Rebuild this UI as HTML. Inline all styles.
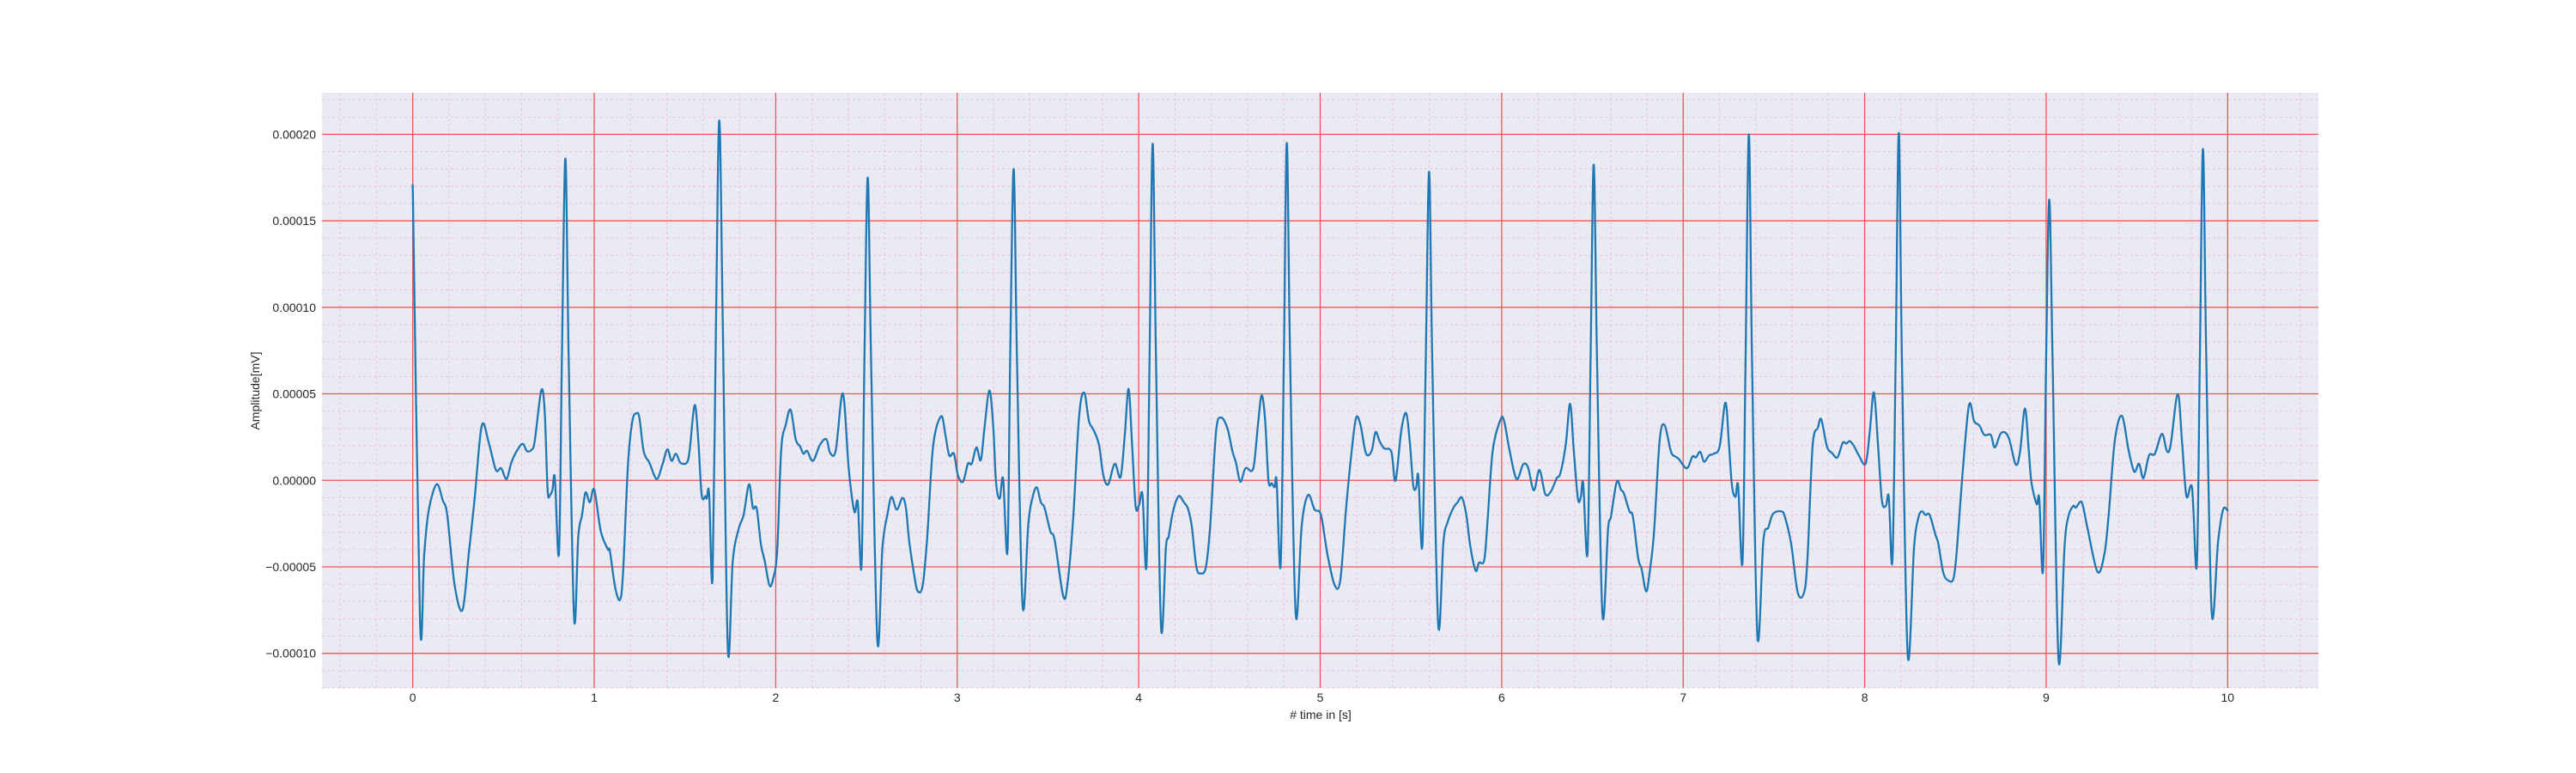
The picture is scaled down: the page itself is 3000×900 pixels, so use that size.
<!DOCTYPE html>
<html>
<head>
<meta charset="utf-8">
<style>
html,body{margin:0;padding:0;background:#fff;}
svg{display:block;}
text{font-family:"Liberation Sans","DejaVu Sans",sans-serif;fill:#262626;}
</style>
</head>
<body>
<svg id="chart" width="3000" height="900" xmlns="http://www.w3.org/2000/svg">
  <rect x="0" y="0" width="3000" height="900" fill="#ffffff"/>
  <rect x="375" y="108" width="2325" height="693" fill="#eaeaf2"/>
  <g id="minor-grid"></g>
  <g id="major-grid"></g>
  <g id="x-ticks"></g>
  <g id="y-ticks"></g>
  <g id="series"></g>
  <text x="1538" y="837" font-size="14" text-anchor="middle"># time in [s]</text>
  <text x="302" y="455" font-size="14" text-anchor="middle" transform="rotate(-90 302 455)">Amplitude[mV]</text>
</svg>
<script>
const xTickValues = [0,1,2,3,4,5,6,7,8,9,10];
const xTickLabels = ["0","1","2","3","4","5","6","7","8","9","10"];
const yTickValues = [-0.0001,-0.00005,0,0.00005,0.0001,0.00015,0.0002];
const yTickLabels = ["\u22120.00010","\u22120.00005","0.00000","0.00005","0.00010","0.00015","0.00020"];
const timeSec = [
0,0.04,0.063,0.087,0.131,0.166,0.19,0.23,0.274,0.308,0.34,0.38,0.419,0.458,0.487,0.517,0.545,0.585,0.609,0.628,0.653,0.672,0.708,0.727,0.743,0.756,0.77,0.783,0.806,0.822,0.841,0.859,0.889,0.912,0.933,0.952,0.976,1.0,1.036,1.075,1.086,1.115,1.142,1.159,1.186,1.21,1.233,1.249,1.273,1.304,1.344,1.376,1.403,1.426,1.45,1.475,1.51,1.526,1.553,1.573,1.592,1.613,1.62,1.633,1.652,1.671,1.689,1.708,1.736,1.763,1.795,1.823,1.853,1.874,1.895,1.918,1.94,1.965,1.984,2.008,
2.03,2.055,2.082,2.11,2.134,2.153,2.173,2.205,2.244,2.279,2.3,2.331,2.37,2.402,2.433,2.452,2.473,2.489,2.507,2.525,2.56,2.588,2.615,2.638,2.667,2.698,2.717,2.736,2.764,2.783,2.81,2.835,2.867,2.911,2.934,2.956,2.982,3.004,3.032,3.059,3.08,3.106,3.13,3.15,3.177,3.198,3.214,3.234,3.253,3.277,3.292,3.311,3.329,3.36,3.391,3.411,3.437,3.461,3.481,3.513,3.537,3.584,3.608,3.639,3.671,3.699,3.726,3.75,3.781,3.805,3.832,3.868,3.9,3.923,3.944,3.962,3.983,4.002,4.021,
4.043,4.06,4.077,4.095,4.123,4.15,4.165,4.189,4.22,4.249,4.271,4.292,4.318,4.342,4.37,4.394,4.426,4.454,4.489,4.517,4.536,4.56,4.588,4.623,4.638,4.659,4.678,4.697,4.715,4.733,4.749,4.76,4.782,4.8,4.816,4.834,4.865,4.898,4.933,4.969,5.004,5.04,5.08,5.111,5.143,5.174,5.198,5.222,5.245,5.261,5.285,5.305,5.327,5.352,5.392,5.415,5.447,5.474,5.494,5.513,5.529,5.541,5.563,5.582,5.6,5.617,5.65,5.679,5.702,5.734,5.757,5.781,5.805,5.828,5.857,5.875,5.904,5.923,5.951,5.994,
6.014,6.043,6.082,6.118,6.145,6.177,6.208,6.24,6.271,6.303,6.323,6.353,6.377,6.397,6.42,6.436,6.449,6.473,6.49,6.507,6.525,6.555,6.586,6.602,6.634,6.657,6.673,6.704,6.723,6.752,6.771,6.796,6.815,6.839,6.87,6.897,6.933,6.957,6.976,7.02,7.051,7.07,7.094,7.115,7.143,7.169,7.201,7.233,7.253,7.269,7.288,7.303,7.327,7.344,7.362,7.379,7.409,7.442,7.469,7.495,7.54,7.56,7.595,7.631,7.666,7.685,7.713,7.742,7.761,7.792,7.82,7.85,7.879,7.899,7.918,7.942,7.968,8.005,8.028,
8.051,8.074,8.095,8.117,8.133,8.153,8.171,8.188,8.205,8.237,8.272,8.295,8.314,8.335,8.358,8.39,8.406,8.433,8.461,8.49,8.509,8.54,8.575,8.603,8.632,8.659,8.695,8.717,8.753,8.793,8.832,8.856,8.883,8.904,8.919,8.948,8.962,8.983,9.0,9.017,9.035,9.068,9.101,9.122,9.149,9.164,9.196,9.227,9.283,9.322,9.346,9.378,9.417,9.454,9.485,9.512,9.536,9.567,9.599,9.638,9.665,9.686,9.725,9.749,9.773,9.804,9.83,9.847,9.864,9.882,9.912,9.947,9.975,10.0
];
const amplitudeMicroV = [
170.6,-81.5,-43,-18,-2.3,-11.7,-20,-60,-75,-43,-11.7,31.5,21.7,6,7,0.8,10.8,19,21,17,17.5,22.7,51.9,40,-5.4,-8.5,-5.4,1.3,-41.9,71.7,186,71.7,-79.4,-32.5,-20,-7,-12.7,-5.4,-29.4,-39.8,-40.8,-61.7,-69,-53,9.2,34.2,38.75,36,16.5,10.2,0.8,9.2,17.9,11.25,15.4,10.2,10.2,17.5,43.5,23.75,-8.5,-9.2,-10.6,-7.5,-56.5,92.5,208,92.5,-97,-47,-28.3,-20,-2.3,-15.8,-16.25,-36.7,-47,-60.6,-57.5,-40.8,
17.5,32,40.8,23.75,19.6,15.4,17,11.25,20.6,23.75,15.8,17.5,50.2,7,-18,-12.7,-49,71.7,175,71.7,-92.5,-38.75,-20,-9.6,-16.9,-10.2,-15.8,-35.6,-55.4,-64.2,-60.6,-32.5,19.6,37,26.9,14.4,15.4,2.9,-0.8,9.6,9.6,19,11.7,30,51.9,32,-1.25,-10.6,0.8,-40.8,71.7,180,71.7,-72,-26.25,-11.7,-4,-12.7,-15.8,-29.4,-34.6,-66.9,-59.6,-22,36.25,50.8,34.2,29.4,20.6,2.9,-2.3,9.6,1.9,25.8,52.9,23.75,-14.8,-14.2,-8.5,
-49,71.7,194.6,71.7,-84.6,-38.75,-32.5,-18,-9.2,-12.7,-16.25,-26.25,-50.2,-53.75,-50.2,-26.25,27.9,36.25,30,16.5,10.2,-0.8,7,5.4,11.25,34.2,49.2,34.2,-0.2,-1.7,-4,-0.8,-49,71.7,195,71.7,-77.3,-26.25,-8.5,-16.9,-20,-42.9,-60.6,-57.5,-15.8,17.5,36.25,32,18.5,14.4,17.5,27.9,22.7,18.5,16.5,-0.2,29,38.75,21.7,-3.3,-4,2.3,-37.7,71.7,178.3,71.7,-82.9,-35.6,-24.2,-15.8,-12.7,-10,-20,-38.75,-52.3,-47.5,-46,-22,17.5,35.2,
34,17.5,0.8,9.2,7.5,-5.8,6,-7.9,-6.5,1.25,4,20.6,44.2,17.5,-10.6,-9.6,-1.7,-41.9,71.7,182.5,71.7,-77.3,-28.3,-21,-0.8,-5.4,-7.5,-17.9,-21,-45,-51.25,-64.2,-53.3,-30.4,22.7,32,16.5,13.75,12.3,7,13.75,13.3,16.5,10.8,14.4,15.4,19.6,45,19.6,-3.3,-9.6,-3.3,-47,71.7,200,71.7,-89.8,-34.6,-27.3,-19.4,-17.9,-21,-36.7,-64.8,-64.8,-45,19.6,30.4,35.2,19.6,15.8,13.3,21.7,21.25,22.7,19.6,14.4,9.6,27.9,
50.8,19.6,-11.7,-14.8,-9.6,-46,71.7,200.8,71.7,-100.8,-38.75,-22,-17.9,-20,-20,-31.5,-36.7,-53.3,-57.9,-56.5,-38.75,5,43.5,34.2,31.7,26.25,26.25,19,27.5,24.8,9.2,16.5,41.5,17.5,-1.25,-13.75,-10.6,-51.25,71.7,162.3,71.7,-103.3,-38.75,-21,-14.8,-15.8,-12.7,-27.3,-52.9,-41.9,-17.9,22.7,37.3,17.5,5,9.6,1.25,14.4,15.4,26.9,17,20.6,49.8,21.7,-9.2,-4.4,-49,71.7,191.5,71.7,-76.25,-35.6,-16.9,-17.5
];

const NS = "http://www.w3.org/2000/svg";
const X0 = 375, X1 = 2700, Y0 = 108, Y1 = 801;
const xMin = -0.5, xMax = 10.5, yMin = -0.00012, yMax = 0.000224;
function xScale(t){ return X0 + (t - xMin) / (xMax - xMin) * (X1 - X0); }
function yScale(v){ return Y1 - (v - yMin) / (yMax - yMin) * (Y1 - Y0); }
function mk(tag, attrs, parent){
  const el = document.createElementNS(NS, tag);
  for (const k in attrs) el.setAttribute(k, attrs[k]);
  parent.appendChild(el);
  return el;
}

const minorG = document.getElementById('minor-grid');
for (let i = -2; i <= 52; i++) {
  const t = i * 0.2;
  if (t < xMin || t > xMax) continue;
  if (i % 5 === 0) continue;
  const x = xScale(t);
  const l = mk('line', {x1:x, x2:x, y1:Y0, y2:Y1, stroke:'#f2bde2', 'stroke-width':1, 'stroke-dasharray':'3,3'}, minorG);
  
  
}
for (let j = -12; j <= 22; j++) {
  if (j % 5 === 0) continue;
  const y = yScale(j * 0.00001);
  const l = mk('line', {x1:X0, x2:X1, y1:y, y2:y, stroke:'#f2bde2', 'stroke-width':1, 'stroke-dasharray':'3,3'}, minorG);
  
  
}

const majorG = document.getElementById('major-grid');
const xTickG = document.getElementById('x-ticks');
xTickValues.forEach((t, i) => {
  const x = xScale(t);
  const l = mk('line', {x1:x, x2:x, y1:Y0, y2:Y1, stroke:'#f25454', 'stroke-width':1.3}, majorG);
  
  
  const tx = mk('text', {x:x, y:817, 'font-size':14, 'text-anchor':'middle'}, xTickG);
  tx.textContent = xTickLabels[i];
  
  
});
const yTickG = document.getElementById('y-ticks');
yTickValues.forEach((v, i) => {
  const y = yScale(v);
  const l = mk('line', {x1:X0, x2:X1, y1:y, y2:y, stroke:'#f25454', 'stroke-width':1.3}, majorG);
  
  
  const tx = mk('text', {x:368, y:y + 5, 'font-size':14, 'text-anchor':'end'}, yTickG);
  tx.textContent = yTickLabels[i];
  
  
});

const pts = timeSec.map((t, i) => [xScale(t), yScale(amplitudeMicroV[i] * 1e-6)]);
let d = 'M' + pts[0][0].toFixed(2) + ',' + pts[0][1].toFixed(2);
for (let i = 0; i < pts.length - 1; i++) {
  const p0 = pts[Math.max(0, i - 1)], p1 = pts[i], p2 = pts[i + 1], p3 = pts[Math.min(pts.length - 1, i + 2)];
  const c1x = p1[0] + (p2[0] - p0[0]) / 6, c1y = p1[1] + (p2[1] - p0[1]) / 6;
  const c2x = p2[0] - (p3[0] - p1[0]) / 6, c2y = p2[1] - (p3[1] - p1[1]) / 6;
  d += ' C' + c1x.toFixed(2) + ',' + c1y.toFixed(2) + ' ' + c2x.toFixed(2) + ',' + c2y.toFixed(2) + ' ' + p2[0].toFixed(2) + ',' + p2[1].toFixed(2);
}
const line = mk('path', {d:d, fill:'none', stroke:'#1f77b4', 'stroke-width':2.3, 'stroke-linejoin':'round', 'stroke-linecap':'round'}, document.getElementById('series'));


</script>
</body>
</html>
